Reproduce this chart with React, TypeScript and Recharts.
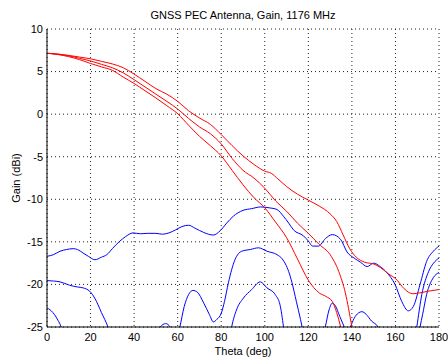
import { LineChart, Line, XAxis, YAxis, CartesianGrid } from "recharts";

// theta (deg) / gain (dBi) pairs
const redA: [number, number][] = [
    [0, 7.15], [5, 7.05], [10, 6.9], [15, 6.7], [20, 6.5], [25, 6.2], [30, 5.9], [35, 5.45],
    [40, 4.7], [45, 3.85], [50, 3.0], [55, 2.35], [60, 1.5], [65, 0.4], [70, -0.45], [75, -1.2],
    [80, -2.4], [85, -3.7], [90, -4.9], [95, -5.9], [100, -6.7], [103, -6.95], [106, -7.6],
    [110, -8.5], [115, -9.4], [120, -10.1], [125, -10.8], [130, -11.7], [133, -12.6], [136, -14.2],
    [139, -15.8], [142, -16.8], [146, -17.4], [150, -17.6], [153, -18.0], [157, -18.8], [160, -19.3],
    [164, -20.5], [168, -21.1], [171, -21.0], [175, -20.8], [180, -20.6],
];

const redB: [number, number][] = [
    [0, 7.15], [5, 7.05], [10, 6.85], [15, 6.55], [20, 6.25], [25, 5.85], [30, 5.45], [35, 4.85],
    [40, 4.05], [45, 3.2], [50, 2.35], [55, 1.5], [60, 0.6], [65, -0.5], [70, -1.5], [75, -2.3],
    [80, -3.5], [85, -5.2], [90, -6.6], [95, -7.5], [100, -8.7], [105, -10.2], [110, -11.4],
    [115, -12.8], [120, -14.0], [125, -15.3], [130, -16.5], [134, -18.5], [137, -21.0],
    [140, -25.0], [142, -28.0],
];

const redC: [number, number][] = [
    [0, 7.15], [5, 7.0], [10, 6.75], [15, 6.4], [20, 5.95], [25, 5.55], [30, 5.15], [35, 4.35],
    [40, 3.6], [45, 2.75], [50, 1.9], [55, 1.0], [60, 0.05], [65, -1.3], [70, -2.6], [75, -3.7],
    [80, -4.9], [85, -6.6], [90, -8.3], [95, -9.8], [100, -11.0], [105, -12.7], [110, -14.5],
    [115, -17.0], [120, -19.5], [125, -21.0], [128, -21.4], [131, -22.0], [133, -23.3],
    [135, -25.2], [137, -28.0],
];

const blueA: [number, number][] = [
    [0, -16.7], [3, -16.5], [6, -16.1], [9, -15.9], [12, -15.8], [14, -15.9], [16.5, -16.3],
    [19, -16.7], [22, -17.1], [25, -16.8], [27.5, -16.5], [30, -15.8], [33.5, -14.9], [36, -14.4],
    [39.5, -13.95], [43, -14.05], [46, -14.0], [50, -14.0], [53, -14.1], [56, -13.95], [59, -13.6],
    [62, -13.2], [65, -13.05], [68, -13.4], [72, -13.9], [76.4, -14.2], [79.5, -13.7], [82.5, -12.8],
    [85.5, -12.0], [90, -11.3], [94, -11.1], [98, -10.9], [102, -11.0], [105.6, -11.2], [108.6, -12.0],
    [111, -12.8], [113.2, -13.6], [117.8, -14.3], [120, -14.9], [122, -15.5], [124.6, -15.5],
    [127.9, -14.6], [131, -14.15], [134.8, -14.7], [137.8, -16.2], [141, -16.9], [144, -17.4],
    [147, -17.9], [150, -17.5], [153, -17.9], [156, -18.6], [159.8, -20.0], [162.9, -22.0],
    [165.9, -23.1], [168.2, -22.6], [171.3, -20.0], [174.3, -17.3], [177.4, -16.1], [180, -15.5],
];

const blueB: [number, number][] = [
    [0, -19.55], [3, -19.6], [6, -19.7], [10.4, -20.1], [14, -20.3], [16.5, -20.4], [19.6, -20.8],
    [21.9, -21.6], [25, -23.3], [28, -25.0], [30, -26.5], [36, -30], [44, -30], [50, -26],
    [52, -25.0], [54.5, -24.6], [56.5, -25.0], [58, -26], [59.5, -26.5], [61, -25.0], [63, -22.6],
    [65, -21.2], [67, -20.7], [69, -20.9], [72, -22.2], [74.5, -23.5], [76.4, -24.4], [78, -24.1],
    [80, -23.4], [81.5, -22.0], [83.3, -19.8], [86.3, -17.1], [89.4, -16.1], [93.3, -15.9],
    [97.1, -15.7], [101, -16.1], [105.6, -16.5], [108, -17.0], [109.5, -17.6], [111, -18.5],
    [112.5, -19.8], [114.5, -22.0], [116.4, -24.1], [118, -26], [120, -28],
];

const blueC: [number, number][] = [
    [0, -22.75], [2.7, -23.3], [5, -24.2], [6.5, -25.0], [8, -26.5], [12, -30], [122, -32],
    [126, -27], [127.8, -25.0], [129.5, -23.0], [131, -22.2], [132.4, -22.5], [134.5, -23.8],
    [136.5, -25.0], [137.8, -25.8], [139.3, -25.0], [141, -24.0], [143, -23.35], [144.6, -23.2],
    [146.5, -23.5], [149, -24.3], [152, -25.0], [154, -26.5], [160, -32], [168, -30],
    [171.3, -25.0], [172.5, -23.5], [174.3, -21.2], [177.4, -19.2], [180, -18.6],
];

const blueD: [number, number][] = [
    [82, -30], [84.8, -25.0], [87, -23.0], [90.2, -21.6], [94, -20.6], [97.9, -19.7], [101, -20.4],
    [104.8, -21.2], [107, -22.4], [108.6, -25.0], [110, -28], [120, -32], [160, -32], [168, -28],
    [169.8, -25.0], [172.1, -21.2], [175.2, -18.5], [177.5, -17.5], [180, -16.9],
];

const xTicks = [0, 20, 40, 60, 80, 100, 120, 140, 160, 180];
const yTicks = [-25, -20, -15, -10, -5, 0, 5, 10];
const xMinor = Array.from({ length: 46 }, (_, i) => i * 4).filter((v) => v <= 180);
const yMinor = Array.from({ length: 36 }, (_, i) => -25 + i);

const reds = [redA, redB, redC];
const blues = [blueA, blueB, blueC, blueD];

const toRows = (pts: [number, number][]) => pts.map(([t, g]) => ({ t, g }));

const font = '"Liberation Sans", Arial, sans-serif';
const ink = "#000";

export default function App() {
    return (
        <div style={{ position: "relative", width: 448, height: 362, fontFamily: font, background: "#fff" }}>
            <style>{`body{margin:0}`}</style>
            <div
                style={{
                    position: "absolute",
                    left: 47,
                    width: 392,
                    top: 9,
                    textAlign: "center",
                    fontSize: 11,
                    lineHeight: "13px",
                    color: ink,
                }}
            >
                GNSS PEC Antenna, Gain, 1176 MHz
            </div>
            <LineChart width={448} height={362} margin={{ top: 29, right: 9, bottom: 14, left: 0 }}>
                <CartesianGrid stroke="#222" strokeDasharray="1 3" />
                {/* main axes with labels */}
                <XAxis
                    dataKey="t"
                    type="number"
                    domain={[0, 180]}
                    ticks={xTicks}
                    interval={0}
                    height={21}
                    tickLine={false}
                    tickSize={0}
                    tickMargin={6}
                    axisLine={{ stroke: ink }}
                    tick={{ fontSize: 11, fill: ink }}
                    label={{ value: "Theta (deg)", position: "bottom", offset: -1, fontSize: 11, fill: ink }}
                />
                <YAxis
                    type="number"
                    domain={[-25, 10]}
                    ticks={yTicks}
                    interval={0}
                    width={47}
                    allowDataOverflow
                    tickLine={false}
                    tickSize={0}
                    tickMargin={4}
                    axisLine={{ stroke: ink }}
                    tick={{ fontSize: 11, fill: ink }}
                    label={{
                        value: "Gain (dBi)",
                        angle: -90,
                        position: "insideLeft",
                        offset: 16,
                        fontSize: 11,
                        fill: ink,
                        style: { textAnchor: "middle" },
                    }}
                />
                {/* box + inner tick marks */}
                <XAxis xAxisId="top" orientation="top" mirror height={0} type="number" domain={[0, 180]}
                    ticks={xTicks} interval={0} tick={false} tickSize={4} axisLine={{ stroke: ink }} tickLine={{ stroke: ink }} />
                <XAxis xAxisId="topMinor" orientation="top" mirror height={0} type="number" domain={[0, 180]}
                    ticks={xMinor} interval={0} tick={false} tickSize={2} axisLine={false} tickLine={{ stroke: ink }} />
                <XAxis xAxisId="botMajor" orientation="bottom" mirror height={0} type="number" domain={[0, 180]}
                    ticks={xTicks} interval={0} tick={false} tickSize={4} axisLine={false} tickLine={{ stroke: ink }} />
                <XAxis xAxisId="botMinor" orientation="bottom" mirror height={0} type="number" domain={[0, 180]}
                    ticks={xMinor} interval={0} tick={false} tickSize={2} axisLine={false} tickLine={{ stroke: ink }} />
                <YAxis yAxisId="right" orientation="right" mirror width={0} type="number" domain={[-25, 10]}
                    ticks={yTicks} interval={0} tick={false} tickSize={4} axisLine={{ stroke: ink }} tickLine={{ stroke: ink }} />
                <YAxis yAxisId="rightMinor" orientation="right" mirror width={0} type="number" domain={[-25, 10]}
                    ticks={yMinor} interval={0} tick={false} tickSize={2} axisLine={false} tickLine={{ stroke: ink }} />
                <YAxis yAxisId="leftMajor" orientation="left" mirror width={0} type="number" domain={[-25, 10]}
                    ticks={yTicks} interval={0} tick={false} tickSize={4} axisLine={false} tickLine={{ stroke: ink }} />
                <YAxis yAxisId="leftMinor" orientation="left" mirror width={0} type="number" domain={[-25, 10]}
                    ticks={yMinor} interval={0} tick={false} tickSize={2} axisLine={false} tickLine={{ stroke: ink }} />

                {blues.map((s, i) => (
                    <Line
                        key={"b" + i}
                        data={toRows(s)}
                        dataKey="g"
                        type="monotone"
                        stroke="#0000ff"
                        strokeWidth={1}
                        dot={false}
                        activeDot={false}
                        isAnimationActive={false}
                    />
                ))}
                {reds.map((s, i) => (
                    <Line
                        key={"r" + i}
                        data={toRows(s)}
                        dataKey="g"
                        type="monotone"
                        stroke="#ff0000"
                        strokeWidth={1}
                        dot={false}
                        activeDot={false}
                        isAnimationActive={false}
                    />
                ))}
            </LineChart>
        </div>
    );
}
